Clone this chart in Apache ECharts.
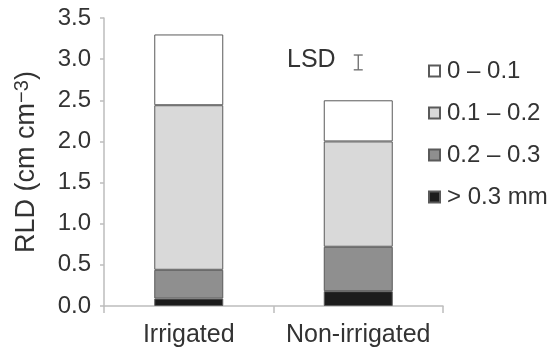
<!DOCTYPE html>
<html><head><meta charset="utf-8">
<script src="https://cdn.jsdelivr.net/npm/echarts@6/dist/echarts.min.js"></script>
<style>html,body{margin:0;padding:0;background:#fff}#c{width:556px;height:360px}</style>
</head><body><div id="c"></div>
<script>
var categories = ['Irrigated', 'Non-irrigated'];
var seriesNames = ['> 0.3 mm', '0.2 \u2013 0.3', '0.1 \u2013 0.2', '0 \u2013 0.1'];
var over03 = [0.09, 0.18];
var d02to03 = [0.35, 0.54];
var d01to02 = [2.0, 1.28];
var d0to01 = [0.86, 0.5];
var lsdCategory = 'Non-irrigated';
var lsdCenter = 2.96;
var lsdValue = 0.18;
var yTicks = [0, 0.5, 1.0, 1.5, 2.0, 2.5, 3.0, 3.5];

var colors = ['#1c1c1c', '#8f8f8f', '#d9d9d9', '#ffffff'];
var values = [over03, d02to03, d01to02, d0to01];
var FONT = 'Liberation Sans, Arial, sans-serif';

var series = seriesNames.map(function (n, i) {
  return {
    name: n, type: 'bar', stack: 'rld', barWidth: 69,
    data: values[i],
    itemStyle: { color: colors[i], borderColor: '#5a5a5a', borderWidth: 1 },
    emphasis: { disabled: true }
  };
});
series.push({
  type: 'custom', name: 'LSD', silent: true,
  data: [[lsdCategory, lsdCenter, lsdValue]],
  renderItem: function (params, api) {
    var c = api.value(1), h = api.value(2);
    var top = api.coord([api.value(0), c + h / 2]);
    var bot = api.coord([api.value(0), c - h / 2]);
    var x = top[0], w = 4.5;
    var st = { stroke: '#6a6a6a', lineWidth: 1.3 };
    return { type: 'group', children: [
      { type: 'line', shape: { x1: x, y1: top[1], x2: x, y2: bot[1] }, style: st },
      { type: 'line', shape: { x1: x - w, y1: top[1], x2: x + w, y2: top[1] }, style: st },
      { type: 'line', shape: { x1: x - w, y1: bot[1], x2: x + w, y2: bot[1] }, style: st }
    ]};
  }
});

var chart = echarts.init(document.getElementById('c'), null, { renderer: 'canvas' });
chart.setOption({
  animation: false,
  backgroundColor: '#fff',
  textStyle: { fontFamily: FONT },
  grid: { left: 104, right: 113, top: 18, bottom: 54 },
  legend: {
    orient: 'vertical', left: 423, top: 54,
    data: seriesNames.slice().reverse(),
    itemWidth: 11, itemHeight: 11, itemGap: 18,
    icon: 'rect',
    selectedMode: false,
    textStyle: { fontSize: 24, color: '#333', fontFamily: FONT, lineHeight: 24, padding: [0, 0, 0, 2] }
  },
  graphic: [{
    type: 'text', left: 287, top: 48,
    style: { text: 'LSD', fontSize: 25, fill: '#333', fontFamily: FONT }
  }],
  xAxis: {
    type: 'category', data: categories,
    axisLine: { lineStyle: { color: '#bdbdbd', width: 1.5 } },
    axisTick: { show: true, length: 7, lineStyle: { color: '#bdbdbd', width: 1.5 } },
    axisLabel: { fontSize: 25, color: '#333', margin: 17, fontFamily: FONT, interval: 0, hideOverlap: false }
  },
  yAxis: {
    type: 'value', min: 0, max: 3.5, interval: 0.5,
    name: '{a|RLD (cm cm}{s|\u22123}{a|)}',
    nameLocation: 'middle', nameGap: 62, nameRotate: 90,
    nameTextStyle: { rich: {
      a: { fontSize: 27, color: '#333', fontFamily: FONT },
      s: { fontSize: 20, color: '#333', fontFamily: FONT, verticalAlign: 'top', padding: [0, 0, 10, 0] }
    } },
    axisLine: { show: true, lineStyle: { color: '#bdbdbd', width: 1.5 } },
    axisTick: { show: true, length: 4, lineStyle: { color: '#bdbdbd', width: 1.5 } },
    splitLine: { show: false },
    axisLabel: {
      fontSize: 24, color: '#333', margin: 13, fontFamily: FONT,
      formatter: function (v) {
        for (var i = 0; i < yTicks.length; i++) if (Math.abs(yTicks[i] - v) < 1e-9) return yTicks[i].toFixed(1);
        return '';
      }
    }
  },
  series: series
});
</script></body></html>
